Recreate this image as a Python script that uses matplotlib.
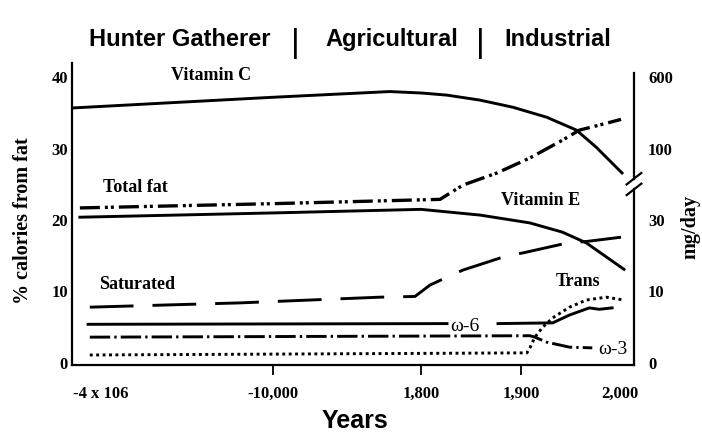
import numpy as np
import matplotlib
matplotlib.use("Agg")
import matplotlib.pyplot as plt

# --- data (years, % calories from fat / scaled mg/day) ---
vitc_yr = [-4.67e6, -1e4, -700, 1800, 1826, 1859, 1892, 1926, 1956, 1976, 2002]
vitc = [35.7, 37.2, 38.0, 37.8, 37.5, 36.8, 35.8, 34.4, 32.6, 30.2, 26.6]

fat_yr = [-4.49e6, -1e4, 1819, 1842, 1876, 1909, 1942, 1959, 1979, 2001]
fat = [21.7, 22.3, 22.9, 24.9, 26.6, 28.7, 31.2, 32.6, 33.3, 34.1]

vite_yr = [-4.49e6, -1e4, 1800, 1859, 1909, 1942, 1966, 2004]
vite = [20.4, 21.0, 21.5, 20.7, 19.6, 18.3, 16.8, 13.1]

sat_yr = [-4.26e6, -7.8e5, -1470, 1320, 1809, 1826, 1842, 1886, 1902, 1947, 1966, 2001]
sat = [7.8, 8.4, 9.2, 9.3, 10.9, 12.0, 13.0, 15.0, 15.4, 16.8, 17.0, 17.6]

w6_yr = [-4.30e6, 1826, np.nan, 1877, 1932, 1949, 1969, 1979, 1992]
w6 = [5.4, 5.5, np.nan, 5.5, 5.6, 6.7, 7.7, 7.5, 7.7]

w3_yr = [-4.26e6, 1909, 1914, 1926, 1949, 1972]
w3 = [3.6, 3.8, 3.6, 2.9, 2.2, 2.1]

trans_yr = [-4.26e6, 1906, 1909, 1914, 1922, 1932, 1949, 1966, 1986, 2004]
trans = [1.1, 1.4, 2.1, 3.6, 5.0, 6.3, 7.8, 8.8, 9.2, 8.8]

xtick_yr = [-4e6, -1e4, 1800, 1900, 2000]
xtick_lab = ["-4 x 106", "-10,000", "1,800", "1,900", "2,000"]
ytick_l = [0, 10, 20, 30, 40]
ytick_r_lab = ["0", "10", "30", "100", "600"]

# non-linear time axis: piecewise linear between these years
scale_yr = [-4.673e6, -4e6, -1e4, 1800, 1900, 2000, 2014]
scale_pos = [0, 29, 201, 349, 449, 548, 562]


def fwd(x):
    return np.interp(x, scale_yr, scale_pos)


def inv(p):
    return np.interp(p, scale_pos, scale_yr)


serif = "Liberation Serif"
sans = "Liberation Sans"

fig = plt.figure(figsize=(7.02, 4.34), dpi=100)
ax = fig.add_axes([72 / 702, 69 / 434, 562 / 702, 302 / 434])
ax.set_xscale("function", functions=(fwd, inv))
ax.set_xlim(scale_yr[0], scale_yr[-1])
ax.set_ylim(-0.3, 42.0)

lw = 2.1
ax.plot(vitc_yr, vitc, color="black", lw=lw)
ax.plot(vite_yr, vite, color="black", lw=lw)
ax.plot(fat_yr, fat, color="black", lw=2.4, dashes=(6, 1.5, 0.9, 0.9, 0.9, 1.5))
ax.plot(sat_yr, sat, color="black", lw=lw, dashes=(15, 6.5))
ax.plot(w6_yr, w6, color="black", lw=lw)
ax.plot(w3_yr, w3, color="black", lw=lw, dashes=(7, 1.4, 0.8, 1.4))
ax.plot(trans_yr, trans, color="black", lw=lw, dashes=(1, 1.2))

# axes / spines
for s in ["top", "right"]:
    ax.spines[s].set_visible(False)
for s in ["left", "bottom"]:
    ax.spines[s].set_linewidth(1.6)

ax.set_xticks(xtick_yr)
ax.set_xticklabels(xtick_lab, fontfamily=serif, fontweight="bold", fontsize=12)
ax.tick_params(axis="x", direction="out", length=7, width=1.3, pad=8)
xt = ax.xaxis.get_major_ticks()
for i in (0, len(xt) - 1):
    xt[i].tick1line.set_visible(False)

ax.set_yticks(ytick_l)
ax.set_yticklabels([str(v) for v in ytick_l], fontfamily=serif, fontweight="bold", fontsize=12)
ax.tick_params(axis="y", length=0, pad=3)

tw = ax.twinx()
tw.set_ylim(ax.get_ylim())
tw.set_yticks(ytick_l)
tw.set_yticklabels(ytick_r_lab, fontfamily=serif, fontweight="bold", fontsize=12)
tw.tick_params(axis="y", length=0, pad=10)
for s in ["top", "left", "bottom"]:
    tw.spines[s].set_visible(False)
tw.spines["right"].set_linewidth(1.6)
tw.spines["right"].set_bounds(-0.3, 24.4)
yt = tw.get_yaxis_transform()
tw.plot([1, 1], [25.8, 40.6], color="black", lw=1.6, transform=yt, clip_on=False)
for yc in (24.3, 25.8):
    tw.plot([0.987, 1.013], [yc - 0.8, yc + 0.8], color="black", lw=1.6,
            transform=yt, clip_on=False)

# labels on curves
ann = dict(transform=ax.transAxes, ha="center", va="center",
           fontfamily=serif, fontweight="bold", fontsize=13)
ax.text(0.247, 0.960, "Vitamin C", **ann)
ax.text(0.112, 0.589, "Total fat", **ann)
ax.text(0.116, 0.265, "Saturated", **ann)
ax.text(0.833, 0.546, "Vitamin E", **ann)
ax.text(0.900, 0.275, "Trans", **ann)
ax.text(0.699, 0.126, "\u03c9-6", transform=ax.transAxes, ha="center", va="center",
        fontfamily=serif, fontsize=14)
ax.text(0.963, 0.050, "\u03c9-3", transform=ax.transAxes, ha="center", va="center",
        fontfamily=serif, fontsize=14)

# titles
fig.text(23 / 702, 1 - 221 / 434, "% calories from fat", rotation=90,
         ha="center", va="center", fontfamily=serif, fontweight="bold", fontsize=14.5)
fig.text(690 / 702, 1 - 227 / 434, "mg/day", rotation=90,
         ha="center", va="center", fontfamily=serif, fontweight="bold", fontsize=14.5)
fig.text(355 / 702, 6 / 434, "Years", ha="center", va="baseline",
         fontfamily=sans, fontweight="bold", fontsize=18)

ty = 1 - 46 / 434
fig.text(180 / 702, ty, "Hunter Gatherer", ha="center", va="baseline",
         fontfamily=sans, fontweight="bold", fontsize=17)
fig.text(392 / 702, ty, "Agricultural", ha="center", va="baseline",
         fontfamily=sans, fontweight="bold", fontsize=17)
fig.text(558 / 702, ty, "Industrial", ha="center", va="baseline",
         fontfamily=sans, fontweight="bold", fontsize=17)
for xb in (295, 480):
    fig.text(xb / 702, 1 - 52 / 434, "|", ha="center", va="baseline",
             fontfamily=sans, fontsize=24)

fig.savefig("out.png", dpi=100)
